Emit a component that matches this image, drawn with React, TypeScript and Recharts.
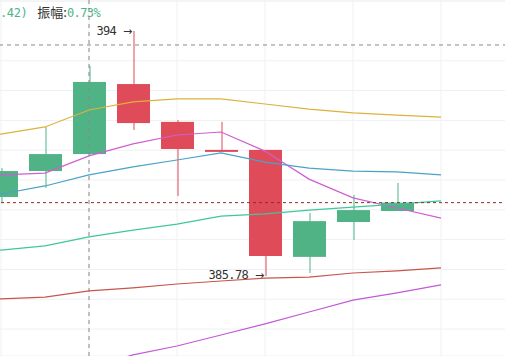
import { ComposedChart, Bar, Line, XAxis, YAxis, CartesianGrid, ReferenceLine } from 'recharts';

// candle slots (-1 is just off the left edge, 10-11 are empty space on the right)
const slots = [-1, 0, 1, 2, 3, 4, 5, 6, 7, 8, 9, 10, 11];
const opens = [null, 388.43, 389.3, 389.87, 392.22, 390.95, 390.01, 390.01, 386.42, 387.59, 387.96, null, null];
const closes = [null, 389.3, 389.87, 392.29, 390.91, 390.04, 389.97, 386.45, 387.62, 387.99, 388.24, null, null];
const highs = [null, 389.4, 390.78, 392.83, 394, 391.01, 390.95, 390.01, 387.89, 388.5, 388.9, null, null];
const lows = [null, 388.23, 388.73, 389.85, 390.68, 388.46, 389.97, 385.78, 385.88, 386.99, 387.96, null, null];

// moving averages
const maGold = [390.31, 390.54, 390.78, 391.35, 391.62, 391.72, 391.72, 391.55, 391.38, 391.25, 391.18, 391.11, null];
const maPink = [389.1, 389.17, 389.23, 389.81, 390.21, 390.51, 390.61, 389.97, 389.03, 388.4, 388.06, 387.72, null];
const maBlue = [388.33, 388.53, 388.8, 389.17, 389.44, 389.67, 389.91, 389.6, 389.4, 389.3, 389.27, 389.17, null];
const maTeal = [386.52, 386.65, 386.79, 387.09, 387.32, 387.52, 387.79, 387.86, 387.99, 388.09, 388.19, 388.3, null];
const maBrown = [384.94, 385.01, 385.07, 385.28, 385.38, 385.51, 385.61, 385.71, 385.74, 385.88, 385.95, 386.05, null];
const maPurple = [381.5, 381.9, 382.3, 382.72, 383.13, 383.43, 383.8, 384.17, 384.57, 384.97, 385.21, 385.48, null];

const yTicks = [384, 385, 386, 387, 388, 389, 390, 391, 392, 393, 394, 395];
const xTicks = [0, 2, 4, 6, 8, 10];
const lastPrice = 388.24;
const crossY = 393.53;
const crossX = 2;

const GREEN = '#4fb386';
const RED = '#e04b5a';
const MONO = '"DejaVu Sans Mono", monospace';

const data = slots.map((s, i) => ({
  s,
  open: opens[i],
  close: closes[i],
  high: highs[i],
  low: lows[i],
  range: lows[i] == null ? null : [lows[i], highs[i]],
  gold: maGold[i],
  pink: maPink[i],
  blue: maBlue[i],
  teal: maTeal[i],
  brown: maBrown[i],
  purple: maPurple[i],
}));

const maxHigh = Math.max(...(highs.filter(v => v != null) as number[]));
const minLow = Math.min(...(lows.filter(v => v != null) as number[]));

function Candle(props: any) {
  const { x, y, width, height, payload } = props;
  if (!payload || payload.open == null) return null;
  const { open, close, high, low } = payload;
  const top = Math.min(y, y + height);
  const h = Math.abs(height);
  const ppu = h / (high - low);
  const py = (v: number) => top + (high - v) * ppu;
  const color = close >= open ? GREEN : RED;
  const cx = x + width / 2;
  const bTop = py(Math.max(open, close));
  const bH = Math.max(2, py(Math.min(open, close)) - bTop);
  const labelStyle = { letterSpacing: -0.6 };
  return (
    <g>
      <rect x={Math.round(cx) - 0.5} y={top} width={1} height={h} fill={color} />
      <rect x={x} y={bTop} width={width} height={bH} fill={color} />
      {high === maxHigh && (
        <text x={cx - 2} y={top} dy={4} textAnchor="end" fontSize={12} fill="#333" fontFamily={MONO} style={labelStyle}>
          {high} <tspan fontFamily="DejaVu Sans" fontSize={11}>→</tspan>
        </text>
      )}
      {low === minLow && (
        <text x={cx - 2} y={top + h - 1} dy={4} textAnchor="end" fontSize={12} fill="#333" fontFamily={MONO} style={labelStyle}>
          {low} <tspan fontFamily="DejaVu Sans" fontSize={11}>→</tspan>
        </text>
      )}
    </g>
  );
}

export default function App() {
  const lineProps = { strokeWidth: 1.2, dot: false, activeDot: false, isAnimationActive: false } as const;
  return (
    <div style={{ position: 'absolute', left: 0, top: 0, width: 505, height: 356, overflow: 'hidden', background: '#fff' }}>
      <div style={{ position: 'absolute', left: -65.5, top: 0 }}>
        <ComposedChart width={572} height={356} data={data} margin={{ top: 0, right: 0, bottom: 0, left: 0 }} barSize={33}>
          <CartesianGrid stroke="#eef0f2" />
          <XAxis dataKey="s" type="category" hide ticks={xTicks} />
          <YAxis hide domain={[383.094, 395.04]} ticks={yTicks} allowDataOverflow />
          <ReferenceLine x={crossX} stroke="#888" strokeDasharray="4 4" />
          <ReferenceLine y={crossY} stroke="#888" strokeDasharray="4 4" />
          <Line dataKey="gold" stroke="#dcb23e" {...lineProps} />
          <Line dataKey="pink" stroke="#cf5fd0" {...lineProps} />
          <Line dataKey="blue" stroke="#4aa3c6" {...lineProps} />
          <Line dataKey="teal" stroke="#3fc79b" {...lineProps} />
          <Line dataKey="brown" stroke="#c8564c" {...lineProps} />
          <Line dataKey="purple" stroke="#c25ad4" {...lineProps} />
          <Bar dataKey="range" shape={<Candle />} activeBar={false} isAnimationActive={false} />
          <ReferenceLine y={lastPrice} stroke="#8b2d2d" strokeDasharray="3 3" />
        </ComposedChart>
      </div>
      <div style={{ position: 'absolute', left: 0, top: 4, whiteSpace: 'nowrap', lineHeight: '16px' }}>
        <span style={{ fontFamily: MONO, fontSize: 12, letterSpacing: -0.4, color: '#4fb386' }}>.42)</span>
        <span style={{ fontFamily: '"Noto Sans CJK SC"', fontSize: 13, color: '#333', marginLeft: 10 }}>振幅:</span>
        <span style={{ fontFamily: MONO, fontSize: 12, letterSpacing: -0.6, color: '#4fb386' }}>0.73%</span>
      </div>
    </div>
  );
}
